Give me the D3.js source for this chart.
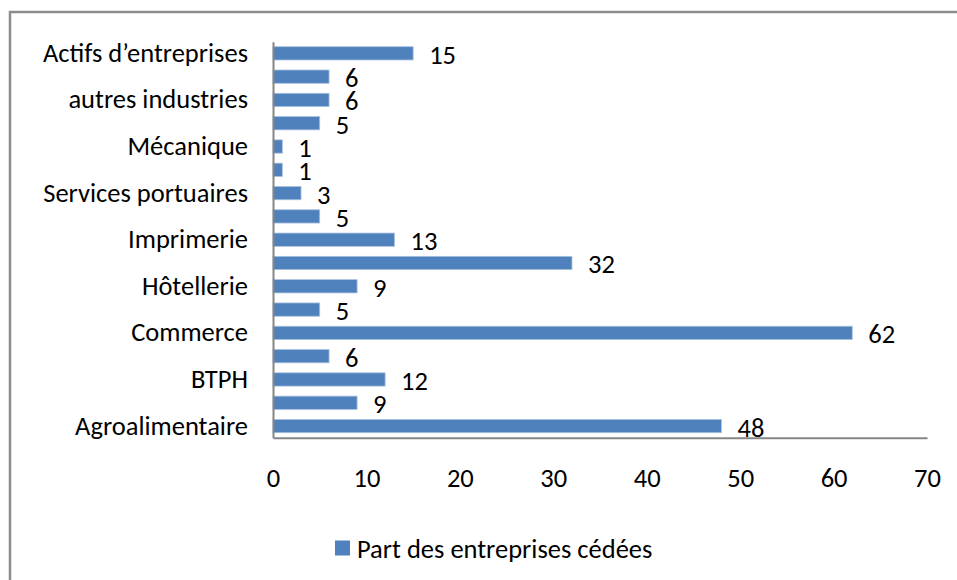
<!DOCTYPE html>
<html>
<head>
<meta charset="utf-8">
<script src="https://cdn.jsdelivr.net/npm/d3@7"></script>
<style>
  body { margin: 0; background: #fff; }
  text { font-family: Carlito, "Open Sans", sans-serif; fill: #000; }
</style>
</head>
<body>
<div id="chart"></div>
<script>
// categories from bottom to top (Excel only shows every second label)
const categories = ["Agroalimentaire", "", "BTPH", "", "Commerce", "", "Hôtellerie", "",
  "Imprimerie", "", "Services portuaires", "", "Mécanique", "", "autres industries", "",
  "Actifs d’entreprises"];
const values = [48, 9, 12, 6, 62, 5, 9, 32, 13, 5, 3, 1, 1, 5, 6, 6, 15];
const xTicks = [0, 10, 20, 30, 40, 50, 60, 70];
const seriesName = "Part des entreprises cédées";

const width = 957, height = 580;
const plot = { left: 273, right: 927, top: 41.7, bottom: 437.7 };
const barColor = "#4f81bd";
const fontSize = 26.5;

const svg = d3.select("#chart").append("svg")
  .attr("width", width)
  .attr("height", height);

// outer chart frame (cut off at right / bottom)
svg.append("rect")
  .attr("x", 10).attr("y", 12)
  .attr("width", width + 20).attr("height", height + 20)
  .attr("fill", "#fff")
  .attr("stroke", "#8c8c8c")
  .attr("stroke-width", 2.5);

const idx = d3.range(categories.length);

const xScale = d3.scaleLinear()
  .domain([0, 70])
  .range([plot.left, plot.right]);

const yScale = d3.scaleBand()
  .domain(idx.slice().reverse())
  .range([plot.top, plot.bottom])
  .paddingInner(0.43)
  .paddingOuter(0.215);

// bars
svg.append("g").selectAll("rect")
  .data(idx)
  .join("rect")
  .attr("x", xScale(0))
  .attr("y", i => yScale(i))
  .attr("width", i => xScale(values[i]) - xScale(0))
  .attr("height", yScale.bandwidth())
  .attr("fill", barColor)
  .attr("stroke", "#a9c1df")
  .attr("stroke-width", 0.8);

// value labels
svg.append("g").selectAll("text")
  .data(idx)
  .join("text")
  .attr("x", i => xScale(values[i]) + 16)
  .attr("y", i => yScale(i) + yScale.bandwidth() / 2 + 1.5)
  .attr("dominant-baseline", "central")
  .attr("font-size", fontSize)
  .text(i => values[i]);

// x axis
const xAxis = svg.append("g")
  .attr("transform", `translate(0, ${plot.bottom})`)
  .call(d3.axisBottom(xScale).tickValues(xTicks).tickSize(0).tickSizeOuter(0).tickPadding(30));
xAxis.select(".domain").attr("stroke", "#868686").attr("stroke-width", 2);
xAxis.selectAll("text").attr("font-size", fontSize).attr("font-family", null);

// y axis
const yAxis = svg.append("g")
  .attr("transform", `translate(${plot.left}, 0)`)
  .call(d3.axisLeft(yScale).tickSize(0).tickSizeOuter(0).tickPadding(25)
    .tickFormat(i => categories[i]));
yAxis.select(".domain").attr("stroke", "#868686").attr("stroke-width", 2);
yAxis.selectAll("text").attr("font-size", fontSize).attr("font-family", null);

// legend
const legend = svg.append("g").attr("transform", "translate(335, 548)");
legend.append("rect")
  .attr("x", 0).attr("y", -7.5)
  .attr("width", 15).attr("height", 15)
  .attr("fill", barColor);
legend.append("text")
  .attr("x", 22).attr("y", 1)
  .attr("dominant-baseline", "central")
  .attr("font-size", fontSize)
  .text(seriesName);
</script>
</body>
</html>
